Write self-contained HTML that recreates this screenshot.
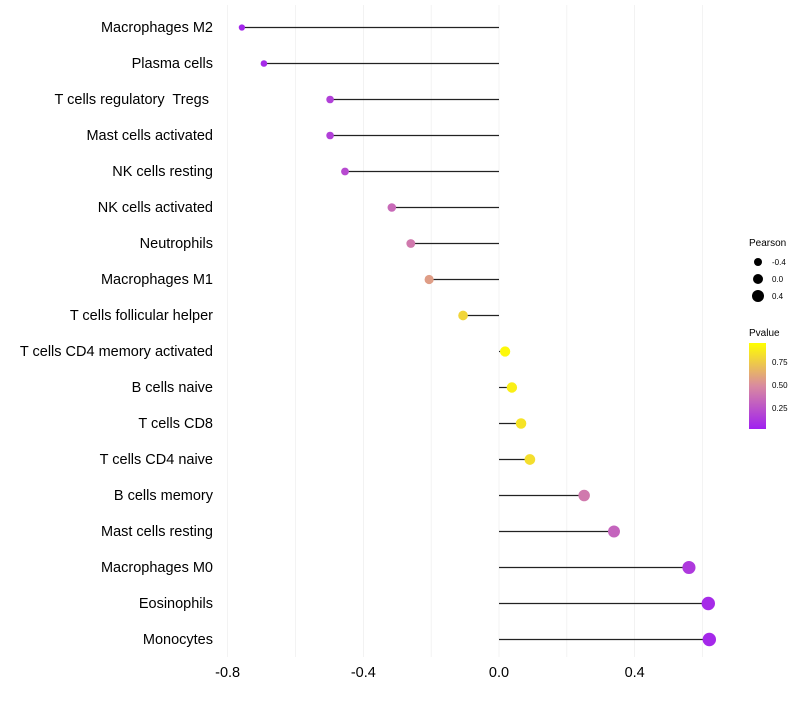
<!DOCTYPE html>
<html><head><meta charset="utf-8"><style>
body{margin:0;background:#fff;font-family:"Liberation Sans",sans-serif}
svg text{font-family:"Liberation Sans",sans-serif}
</style></head><body>
<svg id="chart" width="800" height="700">
<defs><linearGradient id="pg" x1="0" y1="1" x2="0" y2="0">
<stop offset="0" stop-color="#a020f0"/><stop offset="0.5" stop-color="#d98aa0"/><stop offset="1" stop-color="#ffff00"/>
</linearGradient></defs>
<g id="grid"></g><g id="marks"></g><g id="ylab"></g><g id="xlab"></g>
<g>
<text x="749" y="246" font-size="10">Pearson</text>
<circle cx="758" cy="262" r="4" fill="#000"/>
<text x="772" y="265" font-size="8">-0.4</text>
<circle cx="758" cy="279" r="5" fill="#000"/>
<text x="772" y="282" font-size="8">0.0</text>
<circle cx="758" cy="296" r="6" fill="#000"/>
<text x="772" y="299" font-size="8">0.4</text>
<text x="749" y="336" font-size="10">Pvalue</text>
<rect x="749" y="343" width="17" height="86" fill="url(#pg)"/>
<text x="772" y="365" font-size="8">0.75</text>
<text x="772" y="388" font-size="8">0.50</text>
<text x="772" y="411" font-size="8">0.25</text>
</g>
</svg>
<script>
const cells=["Macrophages M2","Plasma cells","T cells regulatory  Tregs ","Mast cells activated","NK cells resting","NK cells activated","Neutrophils","Macrophages M1","T cells follicular helper","T cells CD4 memory activated","B cells naive","T cells CD8","T cells CD4 naive","B cells memory","Mast cells resting","Macrophages M0","Eosinophils","Monocytes"];
const pearson=[-0.758,-0.693,-0.498,-0.498,-0.454,-0.316,-0.26,-0.206,-0.106,0.018,0.038,0.065,0.091,0.251,0.339,0.56,0.617,0.62];
const pvalue=[0.03,0.05,0.15,0.15,0.2,0.35,0.42,0.58,0.82,0.97,0.93,0.88,0.86,0.42,0.32,0.12,0.05,0.04];
const xticks=[-0.8,-0.4,0.0,0.4];
const xtickLabels=["-0.8","-0.4","0.0","0.4"];
const ns="http://www.w3.org/2000/svg";
const X=v=>499+v*339.2, Y=i=>27.5+i*36;
const R=v=>Math.max(2,5.1+2.6*v);
function col(p){const s=[[160,32,240],[217,138,160],[255,255,0]];let t=Math.max(0,Math.min(1,p))*2,i=t>=1?1:0;t-=i;const a=s[i],b=s[i+1];return `rgb(${a.map((c,k)=>Math.round(c+(b[k]-c)*t)).join(",")})`;}
function mk(tag,at,par){const e=document.createElementNS(ns,tag);for(const k in at)e.setAttribute(k,at[k]);document.getElementById(par).appendChild(e);return e;}
for(let v=-0.8;v<=0.61;v+=0.2){const g=mk("line",{x1:X(v),x2:X(v),y1:5,y2:657,stroke:"#ebebeb","stroke-width":0.6},"grid");

}
xticks.forEach((v,i)=>{const t=mk("text",{x:X(v),y:677,"font-size":14.5,"text-anchor":"middle",fill:"#000"},"xlab");t.textContent=xtickLabels[i];

});
cells.forEach((c,i)=>{
const t=mk("text",{x:213,y:Y(i)+4.5,"font-size":14.5,"text-anchor":"end",fill:"#000"},"ylab");t.textContent=c;
t.setAttributeNS("http://www.w3.org/XML/1998/namespace","xml:space","preserve");
t.style.whiteSpace="pre";


const l=mk("line",{x1:X(0),x2:X(pearson[i]),y1:Y(i),y2:Y(i),stroke:"#222","stroke-width":1.2},"marks");


const d=mk("circle",{cx:X(pearson[i]),cy:Y(i),r:R(pearson[i]),fill:col(pvalue[i])},"marks");


});
</script>
</body></html>
